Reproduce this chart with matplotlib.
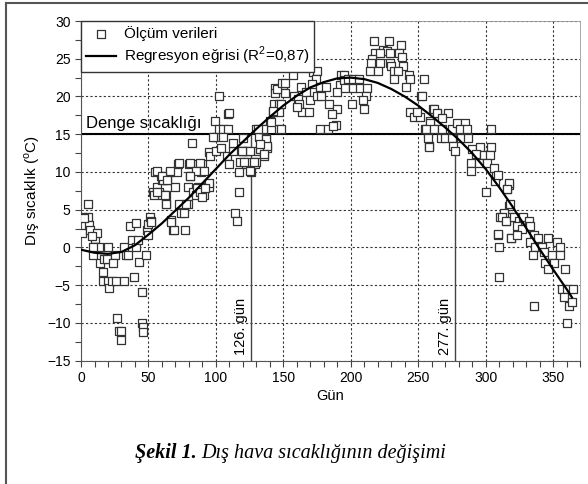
import matplotlib

matplotlib.use("Agg")
import matplotlib.pyplot as plt
from matplotlib.lines import Line2D
from matplotlib.ticker import MultipleLocator

plt.rcParams["font.family"] = ["Liberation Sans", "DejaVu Sans"]
plt.rcParams["mathtext.fontset"] = "custom"
plt.rcParams["mathtext.rm"] = "Liberation Sans"

meas_days = [
    1, 1, 5, 5, 6, 7, 10, 12, 9, 10, 13, 14, 16, 17, 19, 20, 16, 20, 21, 23,
    25, 24, 27, 28, 30, 30, 26, 32, 32, 33, 35, 36, 38, 39, 41, 41, 42, 43, 45, 45,
    46, 46, 48, 49, 50, 51, 52, 2, 8, 9, 50,
    53, 56, 58, 60, 63, 63, 60, 64, 67, 68, 70, 73, 74, 76, 77, 79, 79, 83, 85, 87,
    91, 93, 95, 95,
    55, 59, 61, 66, 72, 71, 80, 81, 87, 89, 90, 95, 96, 99, 102, 99, 102, 105, 109, 109,
    98, 105, 82, 100, 104, 108, 110, 113, 113, 117, 120, 119, 124, 122, 126, 126, 129, 130, 132, 135,
    136, 131, 133, 136, 138, 137, 140, 142, 143, 147, 147, 144, 144, 150, 151, 147, 157, 158,
    110, 73, 81, 88, 56, 66, 85, 91, 60, 64, 81, 120, 118, 123, 125, 130, 54, 62, 56, 86,
    88, 92, 90, 63, 78, 117, 114, 116, 69, 67, 52,
    145, 149, 151, 172, 175, 174, 171, 163, 167, 161, 170, 162, 148, 177, 182, 175, 178, 184, 190, 193,
    195, 192, 190, 186, 164, 169, 160, 142, 141, 148, 135, 131, 177, 183, 189, 137, 138, 133, 136, 119,
    121, 128, 125,
    217, 228, 237, 224, 227, 218, 222, 229, 236, 216, 215, 222, 229, 238, 230, 239, 214, 220, 232, 235,
    243, 232, 244, 254, 195, 195, 198, 202, 206, 196, 202, 207, 212, 241, 211, 209, 201, 210, 252, 244,
    247, 251, 249, 261, 264, 259, 255, 259, 264, 257, 258, 187,
    253, 262, 264, 272, 268, 259, 256, 262, 268, 275, 279, 285, 281, 286, 304, 257, 267, 270, 275, 282,
    287, 258, 276, 277, 290, 296, 304, 293, 299, 303, 289, 295, 301, 306, 289, 308, 307, 300, 317, 316,
    317, 314, 311, 315, 319, 324, 309, 319,
    309, 317, 316, 318, 314, 312, 315, 321, 325, 328, 332, 323, 327, 309, 319, 323, 333, 336, 339, 346,
    353, 355, 333, 337, 342, 310, 335, 343, 349, 355, 344, 351, 346, 359, 310, 336, 357, 360, 365, 358,
    362, 364, 360,
]
meas_temps = [
    4.0, 1.9, 4.0, 5.7, 3.0, 2.3, 1.1, 1.9, -1.0, 0.1, 0.1, -2.1, -3.3, -1.5, -1.5, 0.1, -4.4, -4.4, -5.4, -4.4,
    -1.0, -2.1, -9.4, -11.1, -11.1, -12.2, -4.4, -4.4, 0.1, -1.0, -1.0, 2.9, 1.0, -3.9, 0.1, 3.2, 1.0, -1.9, -5.9, -10.0,
    -10.5, -11.2, -1.0, 2.3, 3.1, 4.0, 3.5, 3.9, 1.5, 0.1, 1.7,
    7.4, 8.0, 7.3, 6.9, 6.9, 5.8, 9.0, 9.0, 3.6, 2.3, 8.0, 5.7, 4.6, 4.6, 2.3, 5.8, 8.0, 7.4, 6.9, 8.0,
    6.9, 8.0, 8.0, 8.5,
    10.0, 9.5, 8.9, 10.0, 11.1, 10.0, 11.1, 9.5, 11.1, 10.0, 11.1, 12.6, 12.1, 14.6, 20.0, 16.8, 15.7, 15.7, 15.7, 17.7,
    14.6, 14.6, 13.9, 12.8, 13.2, 12.1, 11.1, 12.8, 13.9, 10.0, 14.5, 12.8, 12.8, 11.1, 10.0, 11.1, 11.1, 15.7, 14.6, 15.7,
    13.5, 12.8, 13.0, 12.1, 13.2, 14.5, 16.8, 17.9, 19.0, 19.0, 17.9, 21.1, 20.4, 21.4, 20.5, 15.7, 22.9, 20.0,
    17.8, 11.2, 11.2, 11.2, 10.1, 10.1, 10.1, 10.1, 9.5, 9.0, 9.5, 12.8, 11.3, 11.3, 12.8, 11.3, 6.9, 6.9, 7.3, 7.9,
    7.3, 7.9, 6.7, 5.7, 5.7, 7.3, 4.6, 3.5, 2.3, 3.4, 3.4,
    21.0, 21.8, 21.8, 23.2, 23.4, 22.3, 21.7, 21.2, 20.6, 19.7, 19.6, 19.0, 19.0, 21.2, 21.2, 20.1, 20.0, 19.0, 18.4, 22.9,
    22.3, 21.5, 20.6, 17.7, 17.9, 17.9, 18.6, 18.1, 16.6, 15.7, 15.7, 15.7, 15.7, 15.7, 16.2, 14.4, 13.4, 13.7, 12.4, 12.8,
    11.3, 11.3, 10.1,
    27.3, 27.3, 26.8, 26.2, 26.0, 25.7, 25.7, 25.7, 25.7, 25.0, 24.4, 24.5, 24.5, 25.2, 24.0, 24.0, 23.4, 23.4, 23.4, 23.4,
    22.9, 22.3, 22.3, 22.3, 22.9, 22.2, 22.3, 22.3, 22.3, 21.1, 21.1, 21.1, 21.1, 21.2, 20.0, 19.5, 19.0, 18.4, 20.0, 17.9,
    17.3, 17.3, 17.9, 18.4, 17.8, 16.7, 15.7, 15.7, 15.7, 15.1, 13.4, 16.1,
    20.0, 18.3, 17.8, 17.8, 17.2, 16.5, 15.7, 15.7, 15.7, 15.7, 16.5, 16.5, 15.7, 15.7, 15.7, 14.5, 14.5, 14.5, 14.5, 14.5,
    14.5, 13.3, 13.5, 12.8, 13.0, 13.3, 13.3, 12.4, 12.3, 12.3, 11.2, 11.2, 11.2, 10.5, 10.1, 9.5, 8.8, 7.3, 8.3, 7.7,
    5.5, 4.4, 4.0, 3.5, 4.0, 3.5, 1.7, 1.3,
    9.6, 8.5, 7.8, 5.8, 4.6, 4.0, 3.5, 4.0, 3.5, 4.0, 3.5, 2.9, 2.5, 1.8, 1.2, 1.7, 2.9, 1.7, 1.2, 1.2,
    0.7, 0.0, 0.7, 0.0, 0.0, 0.0, -1.0, -0.6, -1.0, -1.0, -2.1, -2.1, -2.8, -2.8, -3.9, -7.7, -5.5, -5.5, -5.5, -6.6,
    -7.8, -7.2, -10.0,
]

# regression curve
fit_days = [0, 10, 20, 30, 40, 50, 60, 70, 80, 90, 100, 110, 120, 130, 140, 150, 160, 170, 180,
            190, 200, 210, 220, 230, 240, 250, 260, 270, 280, 290, 300, 310, 320, 330, 340, 350,
            360, 364]
fit_temps = [-0.3, -0.7, -0.85, -0.6, 0.3, 1.7, 3.2, 4.9, 6.6, 8.5, 10.4, 12.3, 14.0, 15.7, 17.3,
             18.8, 20.1, 21.2, 21.9, 22.4, 22.5, 22.3, 21.8, 21.0, 20.0, 18.8, 17.4, 15.9, 14.3,
             12.5, 10.4, 8.0, 5.4, 2.6, -0.2, -2.9, -5.5, -6.6]

balance_temp = 15
cross_days = [126, 277]
cross_labels = ["126. gün", "277. gün"]

fig = plt.figure(figsize=(5.88, 4.84), dpi=100)
ax = fig.add_axes([0.1378, 0.2548, 0.8486, 0.7018])

ax.scatter(meas_days, meas_temps, marker="s", s=28, facecolors="white",
           edgecolors="#333333", linewidths=0.9, zorder=3, label="Ölçüm verileri")
ax.plot(fit_days, fit_temps, color="black", lw=1.6, zorder=4,
        label="Regresyon eğrisi (R$^2$=0,87)")
ax.axhline(balance_temp, color="black", lw=1.5, zorder=2)
ax.vlines(cross_days, -15, balance_temp, color="#444444", lw=1.0, zorder=2)

ax.text(4, balance_temp + 0.4, "Denge sıcaklığı", fontsize=12, va="bottom", ha="left")
for d, lab in zip(cross_days, cross_labels):
    ax.text(d - 2, -14.2, lab, rotation=90, fontsize=10.5, ha="right", va="bottom")

ax.set_xlim(0, 370)
ax.set_ylim(-15, 30)
ax.xaxis.set_major_locator(MultipleLocator(50))
ax.xaxis.set_minor_locator(MultipleLocator(10))
ax.yaxis.set_major_locator(MultipleLocator(5))
ax.yaxis.set_minor_locator(MultipleLocator(2.5))
ax.tick_params(which="both", direction="out", length=4, width=0.8, color="#444444",
               labelsize=10)
ax.grid(True, which="major", linestyle=(0, (2, 2)), color="#333333", lw=0.8)
for side in ["left", "bottom"]:
    ax.spines[side].set_color("#555555")
for side in ["top", "right"]:
    ax.spines[side].set_color("#999999")
    ax.spines[side].set_linewidth(0.6)

ax.set_xlabel("Gün", fontsize=10.5, labelpad=3)
ax.set_ylabel("Dış sıcaklık ($^\\mathrm{o}$C)", fontsize=11, labelpad=4)

leg = ax.legend(loc="upper left", fontsize=11, frameon=True, fancybox=False,
                borderaxespad=0.0, framealpha=1, edgecolor="#333333",
                handlelength=2.0, handletextpad=0.5, borderpad=0.3, labelspacing=0.3)
leg.get_frame().set_linewidth(1.0)

fig.text(0.335, 0.064, "Şekil 1.", fontsize=14.5, family="Liberation Serif",
         style="italic", weight="bold", ha="right", va="center")
fig.text(0.342, 0.064, "Dış hava sıcaklığının değişimi", fontsize=14.5,
         family="Liberation Serif", style="italic", ha="left", va="center")

# frame remnants (top and left edges)
fig.add_artist(Line2D([0.011, 0.011], [0, 0.994], color="#555555", lw=1.5))
fig.add_artist(Line2D([0.011, 1.0], [0.994, 0.994], color="#555555", lw=1.5))

fig.savefig("out.png", dpi=100)
